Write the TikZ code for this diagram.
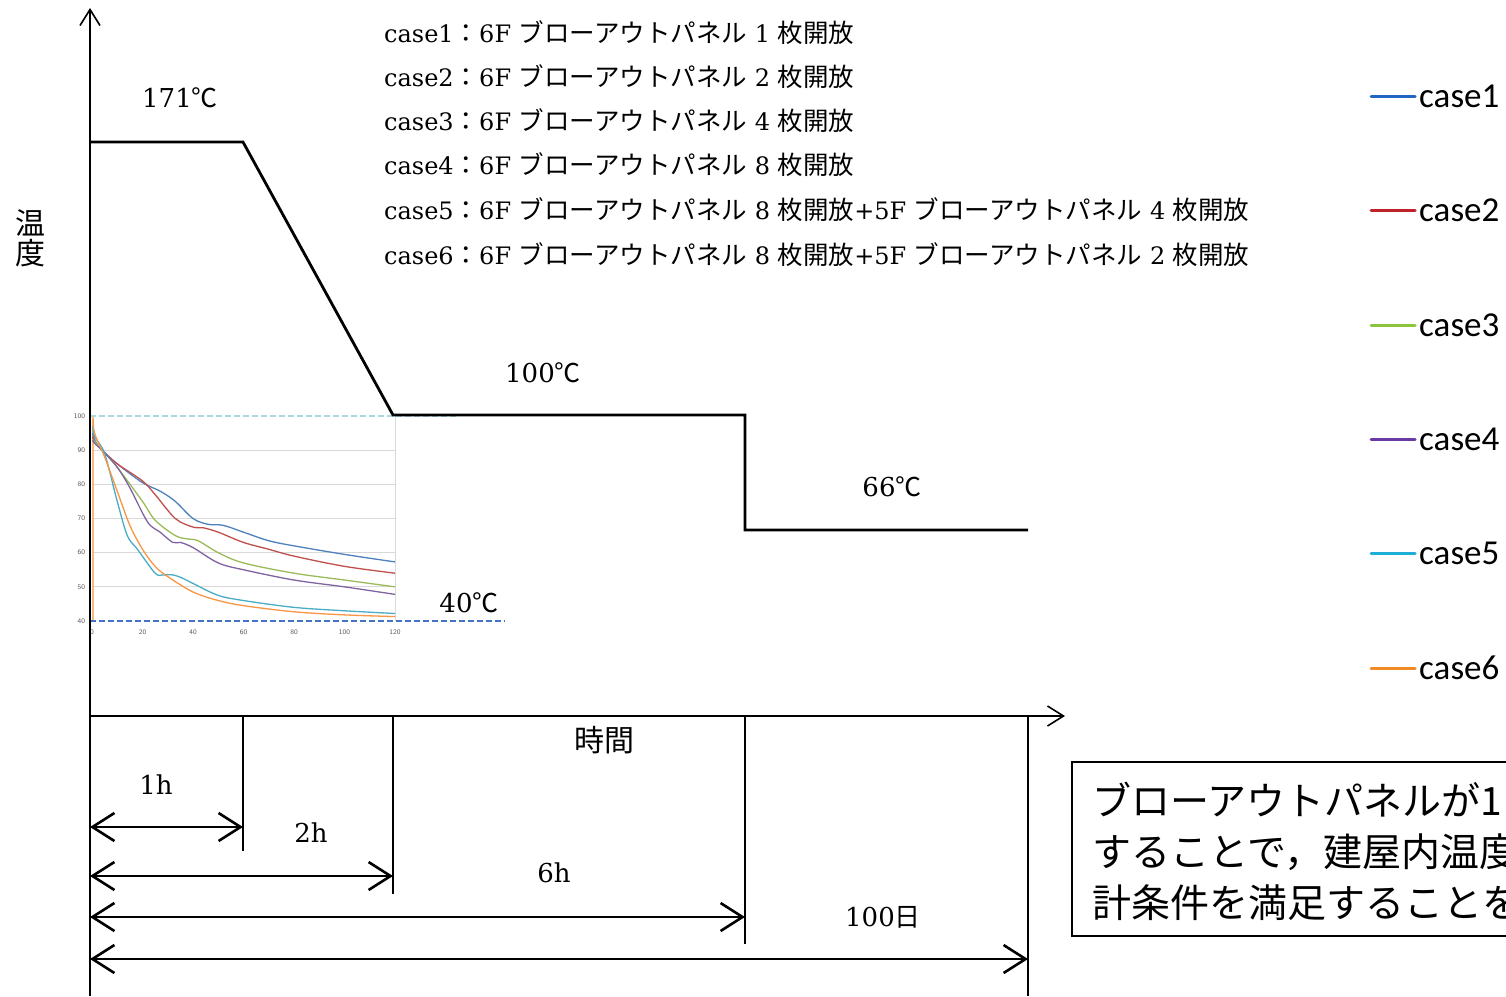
\documentclass[tikz,border=0pt]{standalone}
\usepackage{fontspec}
\setmainfont{DejaVu Serif}
\newfontfamily\jp{Noto Sans CJK JP}
\newfontfamily\legfont{Carlito}
\usetikzlibrary{arrows.meta}
\definecolor{c1}{HTML}{4F81BD}
\definecolor{c2}{HTML}{C0504D}
\definecolor{c3}{HTML}{9BBB59}
\definecolor{c4}{HTML}{8064A2}
\definecolor{c5}{HTML}{4BACC6}
\definecolor{c6}{HTML}{F79646}
\definecolor{l1}{HTML}{2266C4}
\definecolor{l2}{HTML}{C0222A}
\definecolor{l3}{HTML}{8CC43C}
\definecolor{l4}{HTML}{6A3BA5}
\definecolor{l5}{HTML}{1EAFD6}
\definecolor{l6}{HTML}{F08A24}
\definecolor{gridc}{HTML}{D9D9D9}
\definecolor{topdash}{HTML}{A9D8E0}
\definecolor{basedash}{HTML}{4472C4}
\newcommand{\degc}{{\jp ℃}}
\newcommand{\jt}[1]{{\jp\fontsize{25.5}{28}\selectfont #1}}
\newcommand{\caseline}[2]{case#1\jt{：}6F \jt{ブローアウトパネル} #2 \jt{枚開放}}
\begin{document}
\begin{tikzpicture}[x=1pt,y=-1pt,
  ax/.style={line width=1.6pt,-{Straight Barb[length=16pt,width=20pt,line width=1.6pt]}},
  prof/.style={line width=2.8pt,line join=miter},
  dimarrow/.style={line width=2.6pt,{Straight Barb[length=22pt,width=28pt,line width=2.6pt]}-{Straight Barb[length=22pt,width=28pt,line width=2.6pt]}},
  tickline/.style={line width=1.6pt},
  lbl/.style={font=\fontsize{26}{30}\selectfont,inner sep=0pt},
  hdr/.style={anchor=west,inner sep=0pt,font=\fontsize{24}{28}\selectfont},
  grid/.style={gridc,line width=1pt},
  tinylbl/.style={font=\sffamily\fontsize{7}{8}\selectfont,text=black!65,inner sep=0pt},
  curve/.style={line width=1.3pt},
  legline/.style={line width=3pt,line cap=round},
  legtxt/.style={anchor=west,inner sep=0pt,font=\legfont\fontsize{35}{37}\selectfont},
  note/.style={anchor=west,inner sep=0pt,font=\jp\fontsize{39}{41}\selectfont}]
\useasboundingbox (0,0) rectangle (1506,996);
\clip (0,0) rectangle (1506,996);
\fill[white] (0,0) rectangle (1506,996);

% ---- inset chart ----
\begin{scope}[shift={(92,757.7)},x=2.525pt,y=3.417pt]
  \foreach \v in {50,60,70,80,90} \draw[grid] (0,\v) -- (120,\v);
  \draw[grid] (120,40) -- (120,100);
  \foreach \v in {40,50,60,70,80,90,100} \node[tinylbl,anchor=east] (yl\v) at (-2.7,\v) {\v};
  \foreach \t in {0,20,40,60,80,100,120} \node[tinylbl] (xl\t) at (\t,36.8) {\t};
  \draw[c6!70,curve] (0.4,40) -- (0.4,100);
  \draw[c1,curve] plot[smooth,tension=0.55] coordinates {(0.3,95) (1,93) (4,90) (10,86) (20,80.5) (27,78) (33,75) (40,70) (46,68.3) (52,68) (60,66) (70,63.5) (80,62) (100,59.5) (120,57.3)};
  \draw[c2,curve] plot[smooth,tension=0.55] coordinates {(0.3,94) (1,92.5) (4,90) (10,86) (20,81) (25,77) (33,70) (40,67.5) (44,67.3) (50,66) (60,63) (70,61) (80,59) (100,56) (120,54)};
  \draw[c3,curve] plot[smooth,tension=0.55] coordinates {(0.3,93) (1,92.5) (4,90) (10,85) (20,75) (25,69.5) (33,65) (38,64) (42,63.5) (50,60) (60,57) (80,54) (100,52) (120,50)};
  \draw[c4,curve] plot[smooth,tension=0.55] coordinates {(0.3,93) (1,92) (4,90) (10,85) (15,79) (22,69) (27,66) (32,63) (35,63) (40,61.5) (50,57) (60,55) (80,52) (100,50) (120,47.8)};
  \draw[c5,curve] plot[smooth,tension=0.55] coordinates {(0.3,97) (1,94) (5,89) (10,75) (14,65) (18,61) (25,54) (28,53.5) (32,53.5) (36,52.5) (40,51) (50,47.5) (60,46) (80,44) (100,43) (120,42.2)};
  \draw[c6,curve] plot[smooth,tension=0.55] coordinates {(0.5,99) (1,95) (5,88) (10,78) (15,68) (20,61) (25,56) (30,53) (40,48.5) (50,46) (60,44.5) (80,42.7) (100,41.8) (120,41.3)};
\end{scope}
\draw[topdash,line width=1.5pt,dash pattern=on 6pt off 3pt] (90,416) -- (457,416);
\draw[basedash,line width=1.8pt,dash pattern=on 6pt off 3pt] (90,621) -- (505,621);

% ---- axes ----
\coordinate (ybot) at (90,996);
\coordinate (ytop) at (90,8);
\coordinate (org) at (90,716);
\coordinate (xend) at (1065,716);
\draw[ax] (ybot) -- (ytop);
\draw[ax] (org) -- (xend);

% ---- temperature profile ----
\coordinate (p0) at (90,142);
\coordinate (p1) at (243,142);
\coordinate (p2) at (393,415);
\coordinate (p3) at (745,415);
\coordinate (p4) at (745,530);
\coordinate (p5) at (1028,530);
\draw[prof] (p0) -- (p1) -- (p2) -- (p3) -- (p4) -- (p5);

\node[lbl] (t171) at (180,98) {171\degc};
\node[lbl] (t100) at (543,373) {100\degc};
\node[lbl] (t66) at (892,487) {66\degc};
\node[lbl] (t40) at (469,603) {40\degc};

\node[inner sep=0pt,font=\jp\fontsize{30}{33}\selectfont,align=center] (ylab) at (30,238) {温\\[-3pt]度};
\node[inner sep=0pt,font=\jp\fontsize{30}{32}\selectfont] (xlab) at (604,740) {時間};

% ---- time marks ----
\coordinate (m1a) at (243,716); \coordinate (m1b) at (243,851);
\coordinate (m2a) at (393,716); \coordinate (m2b) at (393,894);
\coordinate (m3a) at (745,716); \coordinate (m3b) at (745,944);
\coordinate (m4a) at (1028,716); \coordinate (m4b) at (1028,996);
\draw[tickline] (m1a) -- (m1b);
\draw[tickline] (m2a) -- (m2b);
\draw[tickline] (m3a) -- (m3b);
\draw[tickline] (m4a) -- (m4b);

\coordinate (d1a) at (90,827); \coordinate (d1b) at (243,827);
\coordinate (d2a) at (90,876); \coordinate (d2b) at (393,876);
\coordinate (d3a) at (90,917); \coordinate (d3b) at (745,917);
\coordinate (d4a) at (90,959); \coordinate (d4b) at (1028,959);
\draw[dimarrow] (d1a) -- (d1b);
\draw[dimarrow] (d2a) -- (d2b);
\draw[dimarrow] (d3a) -- (d3b);
\draw[dimarrow] (d4a) -- (d4b);

\node[lbl] (h1) at (156,785) {1h};
\node[lbl] (h2) at (311,833) {2h};
\node[lbl] (h6) at (554,873) {6h};
\node[lbl] (d100) at (883,917) {100{\jp 日}};

% ---- header ----
\node[hdr] (case1) at (384,33) {\caseline{1}{1}};
\node[hdr] (case2) at (384,77) {\caseline{2}{2}};
\node[hdr] (case3) at (384,121) {\caseline{3}{4}};
\node[hdr] (case4) at (384,165) {\caseline{4}{8}};
\node[hdr] (case5) at (384,210) {\caseline{5}{8}+5F \jt{ブローアウトパネル} 4 \jt{枚開放}};
\node[hdr] (case6) at (384,255) {\caseline{6}{8}+5F \jt{ブローアウトパネル} 2 \jt{枚開放}};

% ---- legend ----
\foreach \i/\yy in {1/96,2/210,3/325,4/439,5/553,6/668} {
  \coordinate (la\i) at (1371,\yy);
  \coordinate (lb\i) at (1415,\yy);
  \draw[legline,l\i] (la\i) -- (lb\i);
  \node[legtxt] (lt\i) at (1419,\yy) {case\i};
}

% ---- note box ----
\draw[line width=1.5pt] (1072,762) rectangle (1530,936);
\node[note] (n1) at (1092,800) {ブローアウトパネルが1};
\node[note] (n2) at (1092,852) {することで，建屋内温度};
\node[note] (n3) at (1092,903) {計条件を満足することを};
\end{tikzpicture}
\end{document}
